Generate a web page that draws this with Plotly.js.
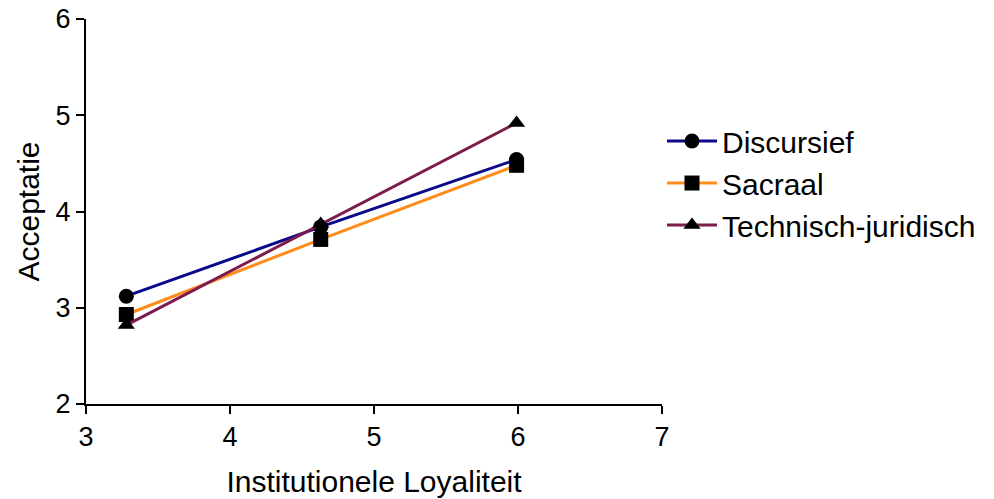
<!DOCTYPE html>
<html>
<head>
<meta charset="utf-8">
<script src="https://cdn.plot.ly/plotly-3.0.1.min.js"></script>
<style>html,body{margin:0;padding:0;background:#fff;}#chart{width:994px;height:499px;}</style>
</head>
<body>
<div id="chart"></div>
<script>
const xLevels = [3.28, 4.63, 5.99];
const discursief = [3.12, 3.84, 4.54];
const sacraal = [2.93, 3.71, 4.48];
const technisch = [2.82, 3.87, 4.92];
const seriesNames = ['Discursief', 'Sacraal', 'Technisch-juridisch'];
const xTicks = [3, 4, 5, 6, 7];
const yTicks = [2, 3, 4, 5, 6];

const colors = ['#0a0a8a', '#ff8c1a', '#7d1a4e'];
const symbols = ['circle', 'square', 'triangle-up'];
const data = [discursief, sacraal, technisch].map((ys, i) => ({
  x: xLevels, y: ys, name: seriesNames[i], type: 'scatter', mode: 'lines+markers',
  line: {color: colors[i], width: 3},
  marker: {symbol: symbols[i], color: '#000', size: 15}
}));

const layout = {
  width: 994, height: 499,
  margin: {l: 86, r: 332, t: 19, b: 95},
  paper_bgcolor: '#fff', plot_bgcolor: '#fff',
  font: {family: 'Liberation Sans, Arial, sans-serif', color: '#000', size: 27},
  showlegend: true,
  legend: {x: 1.0, xanchor: 'left', y: 0.574, yanchor: 'middle', font: {size: 30}, tracegroupgap: 0, itemwidth: 50},
  xaxis: {
    range: [3, 7], tickvals: xTicks, showgrid: false, zeroline: false,
    showline: true, linecolor: '#000', linewidth: 2,
    ticks: 'outside', ticklen: 8, tickwidth: 2, tickcolor: '#000',
    tickfont: {size: 27},
    title: {text: 'Institutionele Loyaliteit', font: {size: 30}, standoff: 20}
  },
  yaxis: {
    range: [2, 6], tickvals: yTicks, showgrid: false, zeroline: false,
    showline: true, linecolor: '#000', linewidth: 2,
    ticks: 'outside', ticklen: 8, tickwidth: 2, tickcolor: '#000',
    tickfont: {size: 27},
    title: {text: 'Acceptatie', font: {size: 30}, standoff: 7}
  }
};
Plotly.newPlot('chart', data, layout, {displayModeBar: false});
</script>
</body>
</html>
